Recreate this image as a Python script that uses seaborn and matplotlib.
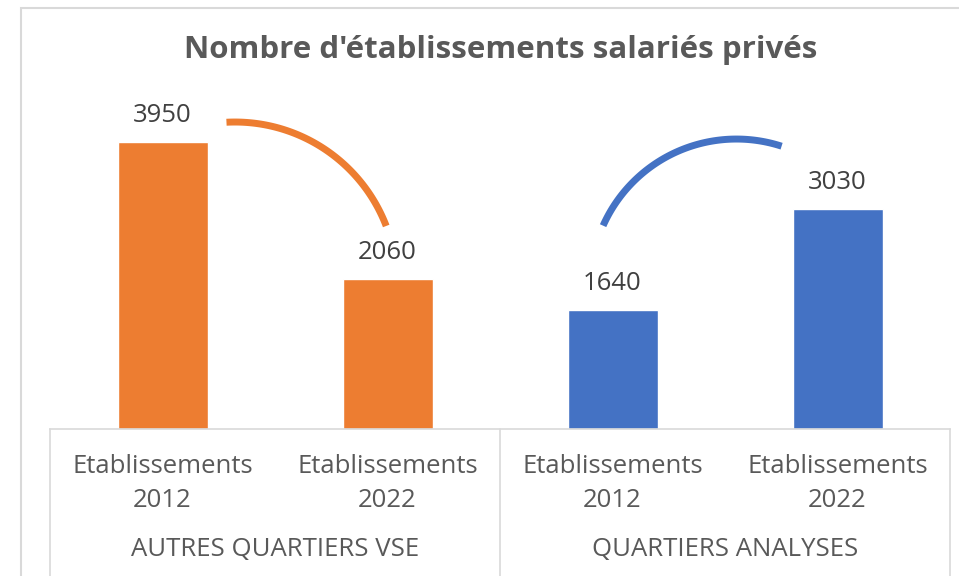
import numpy as np
import pandas as pd
import seaborn as sns
import matplotlib as mpl
import matplotlib.pyplot as plt
from matplotlib.patches import Rectangle

mpl.use('Agg')

# données
groupes = ["AUTRES QUARTIERS VSE", "QUARTIERS ANALYSES"]
annees = ["Etablissements\n2012", "Etablissements\n2022"]
val_autres = [3950, 2060]
val_analyses = [1640, 3030]
couleurs = ["#ED7D31", "#4472C4"]
titre = "Nombre d'établissements salariés privés"

sns.set_theme(style='white')
plt.rcParams['font.family'] = ['Open Sans', 'DejaVu Sans']

df = pd.DataFrame({
    'Groupe': [groupes[0]] * 2 + [groupes[1]] * 2,
    'Annee': annees * 2,
    'Valeur': val_autres + val_analyses,
})
df['Pos'] = [f'{g}|{a}' for g, a in zip(df['Groupe'], df['Annee'])]

W, H = 959, 576
fig = plt.figure(figsize=(W / 100, H / 100), dpi=100)
ymax = 4500
ax = fig.add_axes([50 / W, (H - 429) / H, 900 / W, 327 / H])

sns.barplot(data=df, x='Pos', y='Valeur', hue='Groupe', palette=couleurs,
            dodge=False, width=0.4, saturation=1, legend=False, ax=ax)
ax.set_xlim(-0.5, 3.5)
ax.set_ylim(0, ymax)

# étiquettes de valeurs
for cont in ax.containers:
    ax.bar_label(cont, fmt='%d', padding=10, fontsize=18.5, color='#404040')

# axes
for s in ['top', 'left', 'right']:
    ax.spines[s].set_visible(False)
ax.spines['bottom'].set_color('#d9d9d9')
ax.spines['bottom'].set_linewidth(1.2)
ax.set_yticks([])
ax.set_xlabel('')
ax.set_ylabel('')
ax.set_xticks(range(4))
ax.set_xticklabels(annees * 2, fontsize=18.5, color='#595959', linespacing=1.45)
ax.tick_params(axis='x', length=0, pad=18)

# séparateurs et libellés de groupes
trans = mpl.transforms.blended_transform_factory(ax.transData, ax.transAxes)
for xs in [-0.5, 1.5, 3.5]:
    ax.plot([xs, xs], [0, -0.5], transform=trans, color='#d9d9d9', lw=1.2,
            clip_on=False)
for i, g in enumerate(groupes):
    ax.text(2 * i + 0.5, -0.367, g, transform=trans, ha='center', va='center',
            fontsize=18.5, color='#595959')

# arcs décoratifs (cercles en pixels)
px_x = 900 / 4
px_y = 327 / ymax
arcs = [
    # couleur, centre x (données), centre y (données), rayon px, angles
    (couleurs[0], 0.322, 1995, 162, 21, 93),
    (couleurs[1], 2.551, 1981, 146, 72, 156),
]
for c, cx, cy, r, t1, t2 in arcs:
    t = np.radians(np.linspace(t1, t2, 120))
    ax.plot(cx + r / px_x * np.cos(t), cy + r / px_y * np.sin(t), color=c,
            lw=5, solid_capstyle='butt', clip_on=False)

fig.text(501 / W, 1 - 50 / H, titre, ha='center', va='center', fontsize=22.5,
         fontweight='bold', color='#595959')

fig.patches.append(Rectangle((21 / W, -0.1), 2, (H - 8) / H + 0.1,
                             transform=fig.transFigure, fill=False,
                             edgecolor='#d9d9d9', lw=1.5))

fig.savefig('out.png', dpi=100)
